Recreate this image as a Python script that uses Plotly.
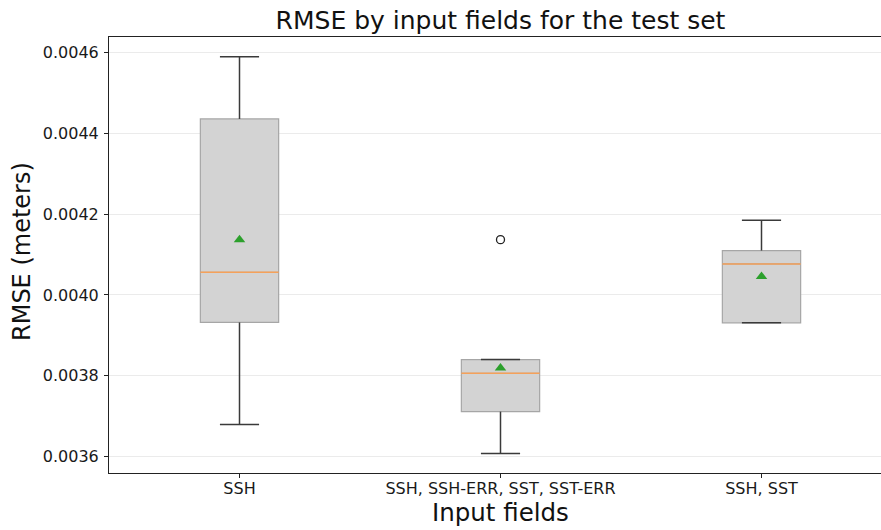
import plotly.graph_objects as go

categories = ["SSH", "SSH, SSH-ERR, SST, SST-ERR", "SSH, SST"]
lower_whisker = [0.003679, 0.003607, 0.003931]
q1 = [0.003932, 0.003711, 0.003931]
median = [0.004056, 0.003806, 0.004077]
q3 = [0.004436, 0.003840, 0.004110]
upper_whisker = [0.004590, 0.003840, 0.004185]
means = [0.004137, 0.003819, 0.004046]
outlier_group = [1]
outlier_values = [0.004137]
y_ticks = [0.0036, 0.0038, 0.0040, 0.0042, 0.0044, 0.0046]

W, H = 881, 530
ML, MR, MT, MB = 109, 0, 37, 57
pos = list(range(len(categories)))
box_w = 0.30
cap_w = 0.15
FONT = "DejaVu Sans"

fig = go.Figure()

# boxes (no whiskers here; whiskers drawn separately with caps)
for i, c in enumerate(categories):
    fig.add_trace(go.Box(
        x=[pos[i]], q1=[q1[i]], median=[median[i]], q3=[q3[i]],
        lowerfence=[q1[i]], upperfence=[q3[i]],
        width=box_w, fillcolor="#d3d3d3",
        line=dict(color="#a6a6a6", width=1.2),
        boxpoints=False, showlegend=False, hoverinfo="skip",
    ))

# whiskers and caps
wx, wy = [], []
for i in pos:
    wx += [i, i, None, i, i, None]
    wy += [lower_whisker[i], q1[i], None, q3[i], upper_whisker[i], None]
    wx += [i - cap_w / 2, i + cap_w / 2, None, i - cap_w / 2, i + cap_w / 2, None]
    wy += [lower_whisker[i], lower_whisker[i], None, upper_whisker[i], upper_whisker[i], None]
fig.add_trace(go.Scatter(x=wx, y=wy, mode="lines",
                         line=dict(color="#3a3a3a", width=1.5),
                         showlegend=False, hoverinfo="skip"))

# medians
mx, my = [], []
for i in pos:
    mx += [i - box_w / 2, i + box_w / 2, None]
    my += [median[i], median[i], None]
fig.add_trace(go.Scatter(x=mx, y=my, mode="lines",
                         line=dict(color="#f5a15a", width=1.5),
                         showlegend=False, hoverinfo="skip"))

# means
fig.add_trace(go.Scatter(x=pos, y=means, mode="markers",
                         marker=dict(symbol="triangle-up", size=10, color="#2ca02c"),
                         showlegend=False))

# outliers
fig.add_trace(go.Scatter(x=outlier_group, y=outlier_values, mode="markers",
                         marker=dict(symbol="circle-open", size=8, color="#222",
                                     line=dict(width=1.3)),
                         showlegend=False))

plot_w = W - ML - MR
spacing = 261.0
x0 = -0.5
x1 = x0 + plot_w / spacing

fig.update_layout(
    width=W, height=H,
    margin=dict(l=ML, r=MR, t=MT, b=MB),
    paper_bgcolor="white", plot_bgcolor="white",
    font=dict(family=FONT, size=16, color="#1a1a1a"),
    title=dict(text="RMSE by input fields for the test set",
               font=dict(size=25, color="#111"),
               xref="container", x=500.5 / W, xanchor="center",
               yref="container", y=1 - 20 / H, yanchor="middle"),
    xaxis=dict(range=[x0, x1], tickmode="array", tickvals=pos, ticktext=categories,
               showline=True, linecolor="#222", linewidth=1, mirror=True,
               ticks="outside", ticklen=4, tickcolor="#222",
               ticklabelstandoff=-3,
               showgrid=False, zeroline=False, tickfont=dict(size=16)),
    yaxis=dict(range=[0.003559, 0.004639], tickmode="array", tickvals=y_ticks,
               tickformat=".4f", showline=True, linecolor="#222", linewidth=1,
               ticks="outside", ticklen=4, tickcolor="#222",
               ticklabelstandoff=2,
               showgrid=True, gridcolor="#ebebeb", gridwidth=1,
               zeroline=False, tickfont=dict(size=16)),
    annotations=[
        dict(text="Input fields", xref="paper", x=(500.5 - ML) / plot_w,
             yref="paper", y=-(512 - (H - MB)) / (H - MT - MB),
             xanchor="center", yanchor="middle", showarrow=False,
             font=dict(size=24.5, color="#111")),
        dict(text="RMSE (meters)", xref="paper", x=-(ML - 22) / plot_w,
             yref="paper", y=1 - (252 - MT) / (H - MT - MB),
             xanchor="center", yanchor="middle", textangle=-90, showarrow=False,
             font=dict(size=24, color="#111")),
    ],
)

fig.write_html("out.html", config={"displayModeBar": False},
               post_script="document.body.style.margin='0';document.body.style.overflow='hidden';")
